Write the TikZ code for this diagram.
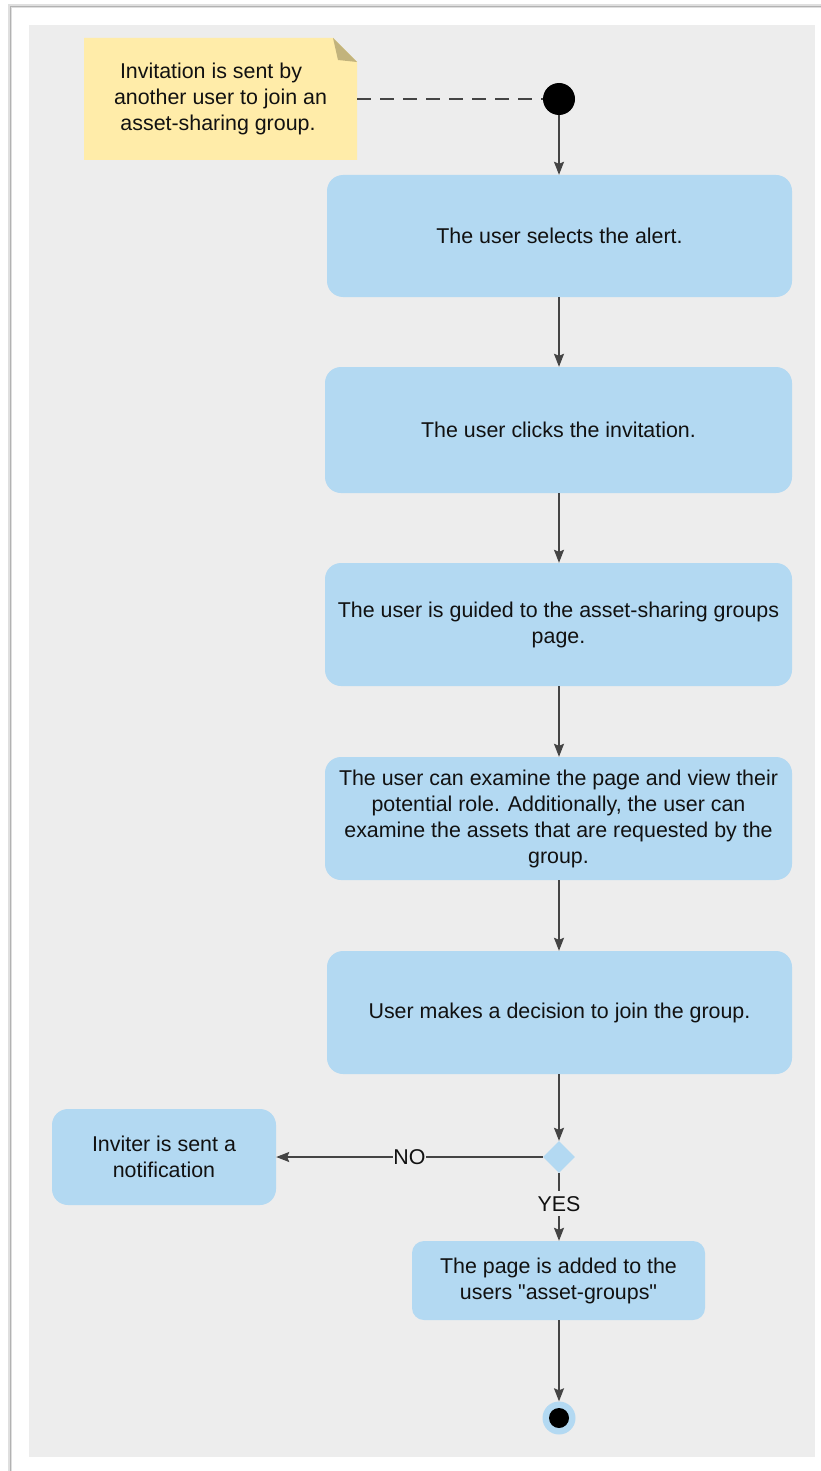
\documentclass[tikz,border=0pt]{standalone}
\usepackage{fontspec}
\setmainfont{Liberation Sans}
\usetikzlibrary{shapes.geometric,arrows.meta}
\definecolor{bg}{HTML}{EDEDED}
\definecolor{boxblue}{HTML}{B3D9F2}
\definecolor{noteyellow}{HTML}{FFECA9}
\definecolor{fold}{HTML}{C2B37C}
\definecolor{edge}{HTML}{444444}
\definecolor{txt}{HTML}{111111}
\newcommand\sq{\XeTeXglyph\XeTeXcharglyph"22\relax}
\begin{document}
\begin{tikzpicture}[x=1pt,y=-1pt,
  every node/.style={font=\fontsize{21.4}{26}\selectfont, text=txt},
  act/.style={fill=boxblue, rounded corners=16pt, align=center, inner sep=0pt},
  arr/.style={draw=edge, line width=1.5pt, -{Stealth[length=13pt,width=10pt,inset=2pt]}},
  lbl/.style={fill=bg, inner xsep=0pt, inner ysep=5pt}]
\useasboundingbox (0,0) rectangle (821,1471);
\fill[white] (0,0) rectangle (821,1471);
% frame shadow
\draw[gray!25, line width=4pt] (10,1471) -- (10,6) -- (821,6);
\draw[gray!60, line width=1.5pt] (10.5,1471) -- (10.5,6.5) -- (821,6.5);
\fill[bg] (29,25) rectangle (815,1457);
% note
\fill[noteyellow] (84,38) -- (333,38) -- (357,62) -- (357,160) -- (84,160) -- cycle;
\fill[fold] (333,38) -- (338,60) -- (357,62) -- cycle;
\node[align=center, minimum width=273pt, minimum height=122pt, inner sep=0pt] (note) at (220.5,99)
  {Invitation is sent by\hspace*{19pt}\\another user to join an\\asset-sharing group.\hspace*{5pt}};
% start
\node[circle, fill=black, minimum size=32pt, inner sep=0pt] (start) at (559,99) {};
\draw[edge, line width=1.5pt, dash pattern=on 14pt off 9pt] (note.east) -- (start.west);
% activities
\node[act, minimum width=465pt, minimum height=122pt] (a1) at (559.5,236) {The user selects the alert.};
\node[act, minimum width=467pt, minimum height=126pt] (a2) at (558.5,430) {The user clicks the invitation.};
\node[act, minimum width=467pt, minimum height=123pt] (a3) at (558.5,624.5) {The user is guided to the asset-sharing groups\\page.};
\node[act, minimum width=467pt, minimum height=123pt] (a4) at (558.5,818.5) {The user can examine the page and view their\\potential role. Additionally, the user can\\examine the assets that are requested by the\\group.};
\node[act, minimum width=465pt, minimum height=123pt] (a5) at (559.5,1012.5) {User makes a decision to join the group.};
\node[diamond, fill=boxblue, minimum width=32pt, minimum height=32pt, inner sep=0pt] (dec) at (559,1157) {};
\node[act, minimum width=224pt, minimum height=96pt] (inv) at (164,1157) {Inviter is sent a\\notification};
\node[act, minimum width=293pt, minimum height=79pt, rounded corners=12pt] (pg) at (558.5,1280.5) {The page is added to the\\users \sq asset-groups\sq};
\node[circle, fill=boxblue, minimum size=33pt, inner sep=0pt] (endo) at (559,1418) {};
\node[circle, fill=black, minimum size=20pt, inner sep=0pt] (endi) at (endo) {};
% connectors
\draw[arr] (start.south) -- (start.south |- a1.north);
\draw[arr] (a1.south -| start) -- (a2.north -| start);
\draw[arr] (a2.south -| start) -- (a3.north -| start);
\draw[arr] (a3.south -| start) -- (a4.north -| start);
\draw[arr] (a4.south -| start) -- (a5.north -| start);
\draw[arr] (a5.south -| dec) -- (dec.north);
\draw[arr] (dec.west) -- node[lbl, pos=0.5] {NO} (inv.east);
\draw[arr] (dec.south) -- node[lbl, pos=0.45] {YES} (pg.north -| dec);
\draw[arr] (pg.south -| dec) -- (endo.north);
\end{tikzpicture}
\end{document}
